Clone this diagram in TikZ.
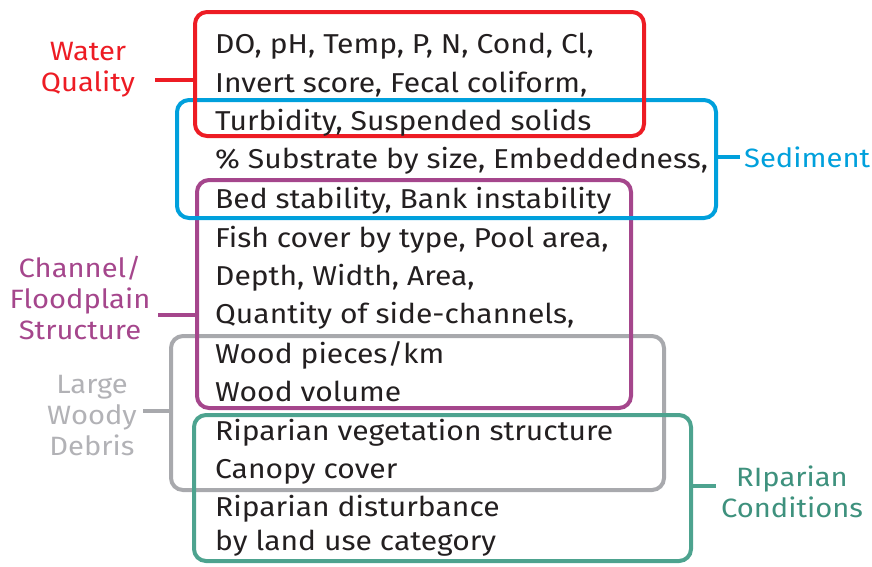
\documentclass[tikz,border=0pt]{standalone}
\usepackage{fontspec}
\setmainfont[FakeStretch=1.1]{Fira Sans}

\definecolor{wqred}{RGB}{237,28,36}
\definecolor{sedblue}{RGB}{0,160,220}
\definecolor{chanpurple}{RGB}{165,70,140}
\definecolor{lwdgray}{RGB}{168,169,173}
\definecolor{lwdtext}{RGB}{178,178,182}
\definecolor{ripgreen}{RGB}{77,163,143}
\definecolor{riptext}{RGB}{62,145,125}
\definecolor{itemtext}{RGB}{35,31,32}

\tikzset{
  groupbox/.style={draw, line width=4pt, rounded corners=12pt, inner sep=0pt},
  tie/.style={line width=4pt},
  item/.style={anchor=base west, inner sep=0pt, text=itemtext,
    font=\fontsize{27.3}{30}\selectfont},
  grouplabel/.style={align=center, inner sep=0pt,
    font=\fontsize{26.5}{31}\selectfont},
}

\begin{document}
\begin{tikzpicture}[x=1pt, y=-1pt]

  \useasboundingbox (0,0) rectangle (872,566);

  \newcommand\ItemX{215}

  %% group boxes
  \node[groupbox, lwdgray, minimum width=493pt, minimum height=154pt]
  (lwdbox) at (417.5,413) {};
  \node[groupbox, ripgreen, minimum width=497pt, minimum height=146pt]
  (ripbox) at (442.5,488) {};
  \node[groupbox, chanpurple, minimum width=434pt, minimum height=228pt]
  (chanbox) at (414,294) {};
  \node[groupbox, sedblue, minimum width=539pt, minimum height=118pt]
  (sedbox) at (446.5,159) {};
  \node[groupbox, wqred, minimum width=449pt, minimum height=124pt]
  (wqbox) at (419.5,74) {};

  %% list of measures
  \node[item] (do)    at (\ItemX, 53) {DO, pH, Temp, P, N, Cond, Cl,};
  \node[item] (inv)   at (\ItemX, 92) {Invert score, Fecal coliform,};
  \node[item] (turb)  at (\ItemX,130) {Turbidity, Suspended solids};
  \node[item] (subs)  at (\ItemX,168) {\% Substrate by size, Embeddedness,};
  \node[item] (bed)   at (\ItemX,208) {Bed stability, Bank instability};
  \node[item] (fish)  at (\ItemX,247) {Fish cover by type, Pool area,};
  \node[item] (depth) at (\ItemX,285) {Depth, Width, Area,};
  \node[item] (side)  at (\ItemX,323) {Quantity of side-channels,};
  \node[item] (wpk)   at (\ItemX,363) {Wood pieces/km};
  \node[item] (wvol)  at (\ItemX,401) {Wood volume};
  \node[item] (rveg)  at (\ItemX,440) {Riparian vegetation structure};
  \node[item] (canop) at (\ItemX,478) {Canopy cover};
  \node[item] (rdist) at (\ItemX,516) {Riparian disturbance};
  \node[item] (luse)  at (\ItemX,550) {by land use category};

  %% group labels
  \node[grouplabel, text=wqred]      (wqlab)   at (88,70)   {Water\\Quality};
  \node[grouplabel, text=sedblue, anchor=west]
  (sedlab) at (744,157) {Sediment};
  \node[grouplabel, text=chanpurple] (chanlab) at (80,298)  {Channel/\\Floodplain\\Structure};
  \node[grouplabel, text=lwdtext]    (lwdlab)  at (92,416)  {Large\\Woody\\Debris};
  \node[grouplabel, text=riptext]    (riplab)  at (792,492) {RIparian\\Conditions};

  %% ties from box to label
  \coordinate (wqend)   at (155,80);
  \coordinate (sedend)  at (740,157);
  \coordinate (chanend) at (158,315);
  \coordinate (lwdend)  at (143,411);
  \coordinate (ripend)  at (716,486);

  \draw[tie, wqred]      (wqbox.west |- wqend)     -- (wqend);
  \draw[tie, sedblue]    (sedbox.east |- sedend)   -- (sedend);
  \draw[tie, chanpurple] (chanbox.west |- chanend) -- (chanend);
  \draw[tie, lwdgray]    (lwdbox.west |- lwdend)   -- (lwdend);
  \draw[tie, ripgreen]   (ripbox.east |- ripend)   -- (ripend);

\end{tikzpicture}
\end{document}
